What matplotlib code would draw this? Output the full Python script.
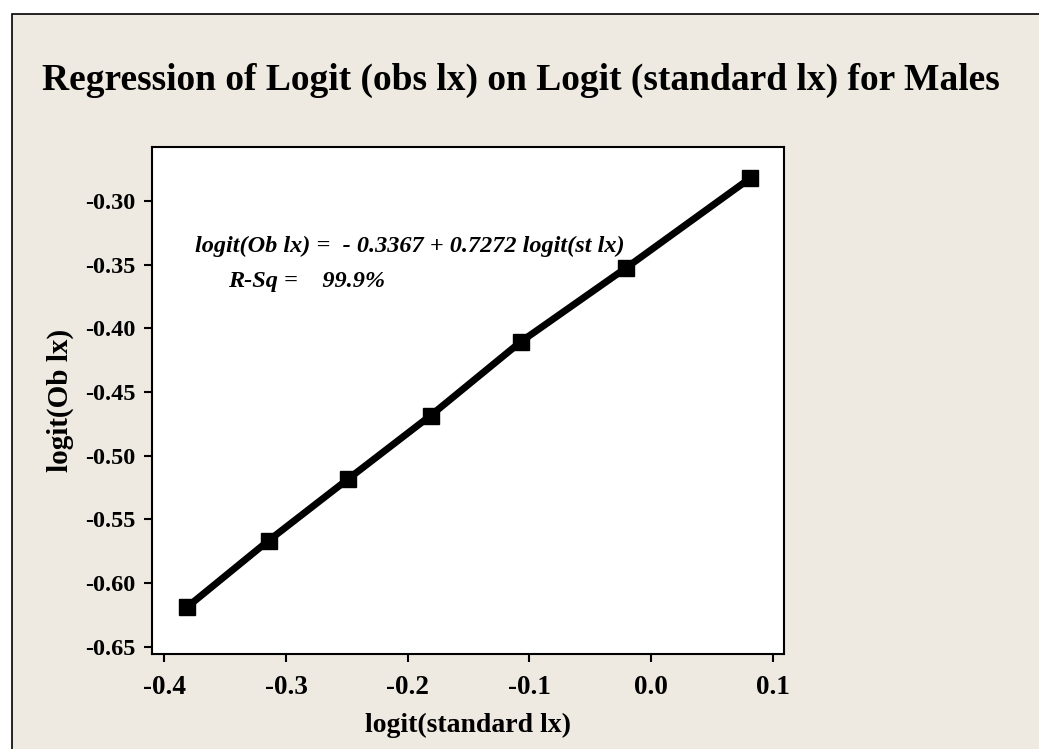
import matplotlib
matplotlib.use("Agg")
import matplotlib.pyplot as plt
from matplotlib.patches import Rectangle

# Data
std_logit = [-0.381, -0.3144, -0.2487, -0.1813, -0.1071, -0.0210, 0.0813]
obs_logit = [-0.6186, -0.5667, -0.5181, -0.4686, -0.4106, -0.3529, -0.2823]
x_ticks = [-0.4, -0.3, -0.2, -0.1, 0.0, 0.1]
y_ticks = [-0.30, -0.35, -0.40, -0.45, -0.50, -0.55, -0.60, -0.65]
title = "Regression of Logit (obs lx) on Logit (standard lx) for Males"
equation = "logit(Ob lx) =  - 0.3367 + 0.7272 logit(st lx)"
rsq = "R-Sq =    99.9%"

plt.rcParams['font.family'] = ['Liberation Serif', 'DejaVu Serif']
BG = '#EEEAE1'

W, H = 1039, 749
fig = plt.figure(figsize=(W / 100, H / 100), dpi=100)
fig.patch.set_facecolor('white')
fig.patches.append(Rectangle((11.5 / W, -0.05), 1.2, (H - 13.5) / H + 0.05,
                             transform=fig.transFigure, facecolor=BG,
                             edgecolor='black', linewidth=1.2, zorder=-10))

ax = fig.add_axes([152.3 / W, (H - 654.3) / H, (784.3 - 152.3) / W, (654.3 - 147.3) / H])
ax.set_facecolor('white')
ax.plot(std_logit, obs_logit, color='black', linewidth=5, solid_joinstyle='round',
        marker='s', markersize=12, markerfacecolor='black', markeredgecolor='black')

ax.set_xlim(-0.4099, 0.1094)
ax.set_ylim(-0.6559, -0.2580)
ax.set_xticks(x_ticks)
ax.set_xticklabels([f"{v:.1f}" for v in x_ticks])
ax.set_yticks(y_ticks)
ax.set_yticklabels([f"{v:.2f}" for v in y_ticks])
ax.tick_params(direction='out', length=6, width=1.5)
ax.tick_params(axis='x', pad=9, labelsize=19.5)
ax.tick_params(axis='y', pad=6, labelsize=17.5)
for lab in ax.get_xticklabels() + ax.get_yticklabels():
    lab.set_fontweight('bold')
for s in ax.spines.values():
    s.set_linewidth(1.5)

ax.set_xlabel("logit(standard lx)", fontsize=20, fontweight='bold', labelpad=9)
ax.set_ylabel("logit(Ob lx)", fontsize=21, fontweight='bold', labelpad=8)

ax.text(0.408, 0.805, equation, transform=ax.transAxes, ha='center', va='center',
        fontsize=17.5, fontweight='bold', fontstyle='italic')
ax.text(0.120, 0.736, rsq, transform=ax.transAxes, ha='left', va='center',
        fontsize=17.5, fontweight='bold', fontstyle='italic')

fig.text(0.5015, 1 - 80 / H, title, ha='center', va='center', fontsize=27, fontweight='bold')

fig.savefig("out.png", dpi=100, facecolor=fig.get_facecolor())
